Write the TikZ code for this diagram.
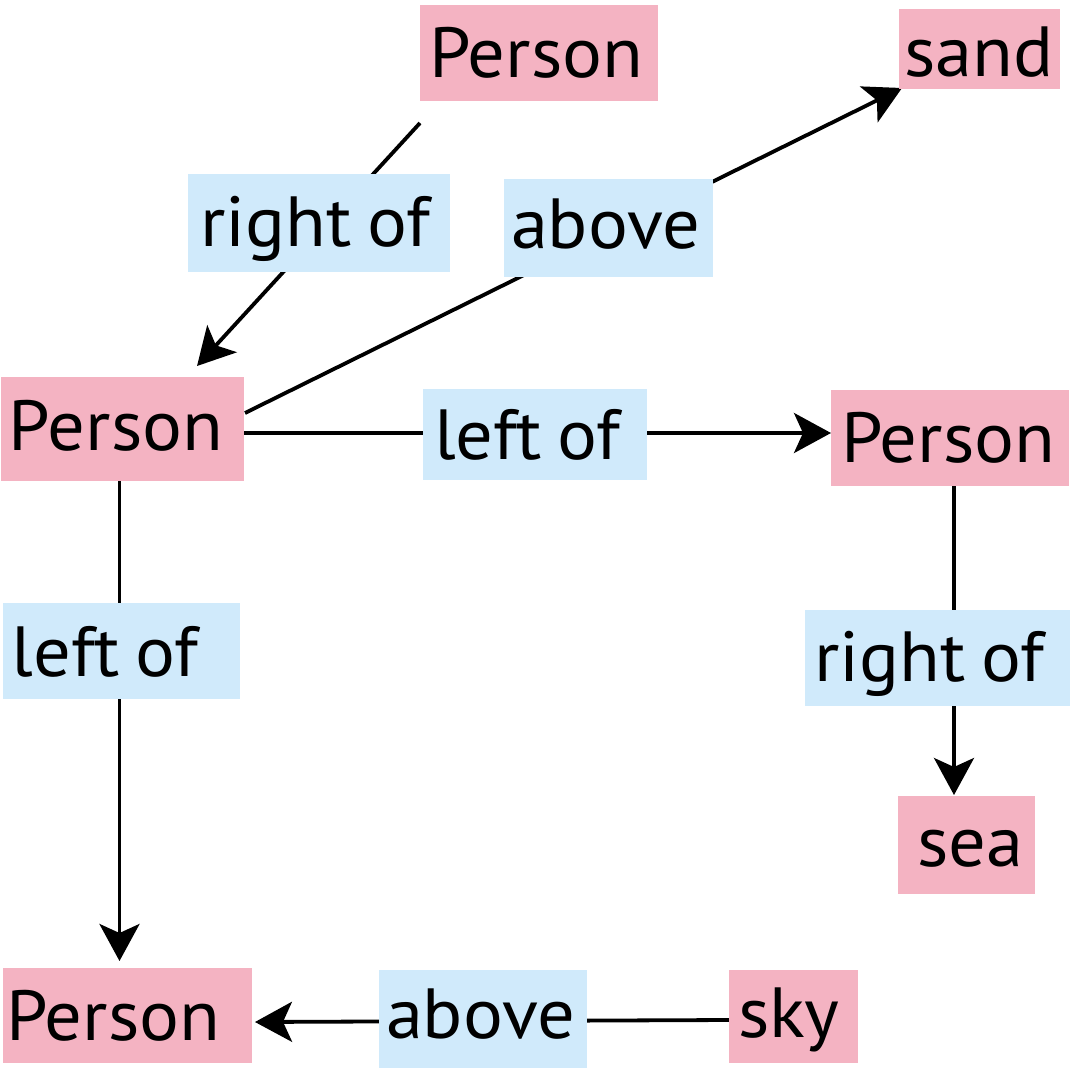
\documentclass[tikz,border=0pt]{standalone}
\usepackage{fontspec}
\setmainfont[FakeStretch=1.05]{PT Sans}
\usetikzlibrary{arrows.meta,backgrounds}
\definecolor{pinkc}{RGB}{244,179,194}
\definecolor{bluec}{RGB}{208,234,251}
\hyphenpenalty=10000
\exhyphenpenalty=10000
\newcommand{\bigtext}{\fontsize{71}{80}\selectfont\fontdimen2\font=16pt\relax}
\newcommand{\tightspace}{\spaceskip=16pt\relax\xspaceskip=16pt\relax}
\begin{document}
\begin{tikzpicture}[x=1pt,y=-1pt,
  box/.style n args={4}{anchor=north west, outer sep=0pt, inner sep=0pt,
    text width=#1, text height=#2, text depth=#3,
    fill=#4, font=\bigtext, execute at begin node=\tightspace},
  conn/.style={line width=3.8pt, -{Stealth[length=37pt,width=40pt,inset=9pt]}}]
\useasboundingbox (0,0) rectangle (1070,1071);
% entity boxes
\node[box={238pt}{72pt}{24pt}{pinkc}] (tp) at (420,5) {\hspace*{9pt}Person};
\node[box={161pt}{67pt}{13pt}{pinkc}] (sand) at (899,9) {\hspace*{5pt}sand};
\node[box={243pt}{73pt}{31pt}{pinkc}] (lp) at (1,377) {\hspace*{8pt}Person};
\node[box={238pt}{72pt}{24pt}{pinkc}] (rp) at (831,390) {\hspace*{10pt}Person};
\node[box={137pt}{70pt}{28pt}{pinkc}] (sea) at (898,796) {\hspace*{19pt}sea};
\node[box={249pt}{72pt}{23pt}{pinkc}] (bp) at (3,968) {\hspace*{3pt}Person};
\node[box={129pt}{67pt}{26pt}{pinkc}] (sky) at (729,970) {\hspace*{9pt}sky};
% relation labels
\node[box={262pt}{72pt}{26pt}{bluec}] (r1) at (188,174) {\hspace*{12pt}right of};
\node[box={209pt}{69pt}{29pt}{bluec}] (a1) at (504,179) {\hspace*{7pt}above};
\node[box={224pt}{70pt}{21pt}{bluec}] (l1) at (423,389) {\hspace*{11pt}left of};
\node[box={237pt}{73pt}{23pt}{bluec}] (l2) at (3,603) {\hspace*{9pt}left of};
\node[box={265pt}{71pt}{25pt}{bluec}] (r2) at (805,610) {\hspace*{9pt}right of};
\node[box={208pt}{68pt}{30pt}{bluec}] (a2) at (379,970) {\hspace*{7pt}above};
% connector ends
\coordinate (c1s) at (420,123); \coordinate (c1e) at (197,366);
\coordinate (c2s) at (245,413); \coordinate (c2e) at (902,88);
\coordinate (c3s) at (244,433); \coordinate (c3e) at (831,433);
\coordinate (c4s) at (119.5,481); \coordinate (c4e) at (119.5,961);
\coordinate (c5s) at (954,486); \coordinate (c5e) at (954,795);
\coordinate (c6s) at (729,1020); \coordinate (c6e) at (255,1022);
\begin{scope}[on background layer]
\draw[conn] (c1s) -- (c1e);
\draw[conn] (c2s) -- (c2e);
\draw[conn] (c3s) -- (c3e);
\draw[conn] (c4s) -- (c4e);
\draw[conn] (c5s) -- (c5e);
\draw[conn] (c6s) -- (c6e);
\end{scope}
\end{tikzpicture}
\end{document}
